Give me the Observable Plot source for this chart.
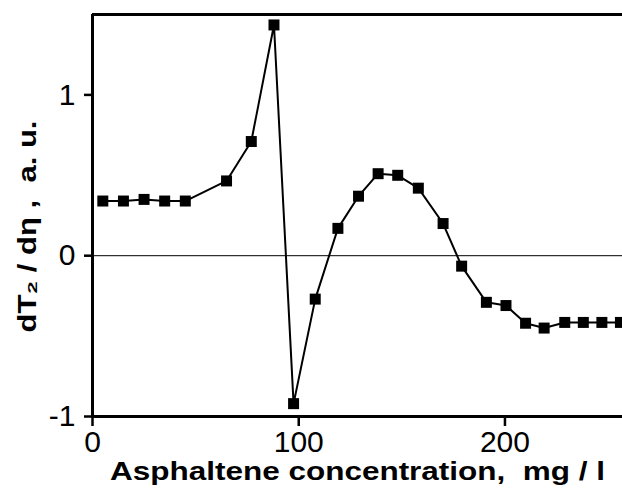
<!DOCTYPE html>
<html>
<head>
<meta charset="utf-8">
<script src="https://cdn.jsdelivr.net/npm/d3@7"></script>
<script src="https://cdn.jsdelivr.net/npm/@observablehq/plot@0.6"></script>
<style>
  html, body { margin: 0; padding: 0; background: #fff; }
  #chart svg { display: block; }
  #chart g[aria-label="x-axis tick"] path, #chart g[aria-label="y-axis tick"] path { stroke-width: 2.5px; }
  #chart g[aria-label="x-axis tick label"], #chart g[aria-label="y-axis tick label"] { font-size: 30px; }
</style>
</head>
<body>
<div id="chart"></div>
<script>
const concentration = [5, 15, 25, 35, 45, 65, 77, 88, 97.5, 108, 119, 129, 138.5, 148, 158, 170, 179, 191, 200.5, 210, 219, 229, 238, 247, 256];
const dT2dEta = [0.34, 0.34, 0.35, 0.34, 0.34, 0.465, 0.71, 1.435, -0.92, -0.27, 0.17, 0.37, 0.51, 0.50, 0.42, 0.20, -0.065, -0.29, -0.31, -0.42, -0.45, -0.415, -0.415, -0.415, -0.415];
const xTicks = [0, 100, 200];
const yTicks = [-1, 0, 1];
const xLabel = "Asphaltene concentration,  mg / l";
const yLabel = "dT\u2082 / d\u03B7 ,  a. u.";

const data = concentration.map((c, i) => ({c, v: dT2dEta[i]}));

const font = "'Liberation Sans', Arial, sans-serif";
const fmt = d => String(d);

const plot = Plot.plot({
  width: 622,
  height: 503,
  marginLeft: 92,
  marginRight: 0,
  marginTop: 14,
  marginBottom: 87,
  style: {fontFamily: font, background: "#fff", color: "#000", overflow: "visible"},
  x: {domain: [0, 257], ticks: xTicks, label: null},
  y: {domain: [-1, 1.5], ticks: yTicks, label: null},
  marks: [
    Plot.ruleY([0], {stroke: "#000", strokeWidth: 1}),
    Plot.line(data, {x: "c", y: "v", stroke: "#000", strokeWidth: 2}),
    Plot.dot(data, {x: "c", y: "v", symbol: "square", r: 6.2, fill: "#000", stroke: "none"}),
    Plot.axisX({ticks: xTicks, tickFormat: fmt, tickSize: 10, tickPadding: 4, fontSize: 30, label: null}),
    Plot.axisY({ticks: yTicks, tickFormat: fmt, tickSize: 8, tickPadding: 9, fontSize: 30, label: null}),
    Plot.ruleY([-1], {stroke: "#000", strokeWidth: 3}),
    Plot.ruleY([1.5], {stroke: "#000", strokeWidth: 3}),
    Plot.ruleX([0], {stroke: "#000", strokeWidth: 3}),
    Plot.text([xLabel], {frameAnchor: "bottom", dy: 63, text: d => d, fontSize: 26, fontWeight: "bold", textAnchor: "middle"}),
    Plot.text([yLabel], {frameAnchor: "left", dx: -65, dy: 11, rotate: -90, text: d => d, fontSize: 26, fontWeight: "bold", textAnchor: "middle"})
  ]
});
document.getElementById("chart").appendChild(plot);

// stretch label lengths to match the reference widths
d3.select(plot).selectAll("text").each(function() {
  const t = this.textContent;
  if (t === xLabel || t === yLabel) {
    d3.select(this).attr("textLength", t === xLabel ? 495 : 212).attr("lengthAdjust", "spacingAndGlyphs");
  }
});
</script>
</body>
</html>
